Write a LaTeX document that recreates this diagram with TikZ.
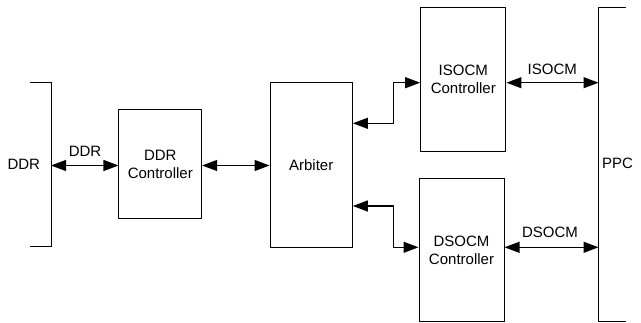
\documentclass[tikz,border=0pt]{standalone}
\usepackage{fontspec}
\setmainfont{Liberation Sans}
\usetikzlibrary{arrows.meta,calc}
\begin{document}
\begin{tikzpicture}[x=1pt,y=-1pt,
  every node/.style={font=\fontsize{15}{18.5}\selectfont, inner sep=0pt},
  blk/.style={draw, line width=1pt, align=center},
  ln/.style={line width=1pt},
  arr/.style={line width=1.1pt, {Triangle[length=15pt,width=11pt]}-{Triangle[length=15pt,width=11pt]}},
  lbl/.style={}
]
\useasboundingbox (0,0) rectangle (641,323);
% boxes
\node[blk, minimum width=82.7pt, minimum height=109pt] (ddrc) at (160.3,164.5) {DDR\\Controller};
\node[blk, minimum width=82.3pt, minimum height=164.3pt] (arb) at (311.2,164.9) {Arbiter};
\node[blk, minimum width=85.3pt, minimum height=143.7pt] (iso) at (463.3,79.2) {ISOCM\\Controller};
\node[blk, minimum width=85pt, minimum height=142.7pt] (dso) at (461.5,250.3) {DSOCM\\Controller};
% brackets
\coordinate (ddrT) at (51,82.7);
\coordinate (ddrB) at (51,246.7);
\draw[ln] (30,82.7) -- (ddrT) -- (ddrB) -- (30,246.7);
\coordinate (ppcT) at (598.5,7.3);
\coordinate (ppcB) at (598.5,321.7);
\draw[ln] (626,7.3) -- (ppcT) -- (ppcB) -- (626,321.7);
\node (ddrtxt) at (23.8,164.5) {DDR};
\node (ppctxt) at (617.5,163.3) {PPC};
% connectors
\coordinate (ddrA) at (51,165.5);
\draw[arr] (ddrA) -- (ddrA -| ddrc.west);
\node (ddrlbl) at (85,151) {DDR};
\coordinate (mA) at (201.7,165.5);
\draw[arr] (ddrc.east |- mA) -- (arb.west |- mA);
\coordinate (ppcI) at (598.5,82.7);
\draw[arr] (iso.east |- ppcI) -- (ppcI);
\node (isolbl) at (552.3,69) {ISOCM};
\coordinate (ppcD) at (598.5,247.3);
\draw[arr] (dso.east |- ppcD) -- (ppcD);
\node (dsolbl) at (550,232.5) {DSOCM};
\coordinate (aI) at (352.3,123.3);
\coordinate (jI) at (393.3,123.3);
\draw[arr] (arb.east |- aI) -- (jI) |- (iso.west |- ppcI);
\coordinate (aD) at (352.3,206);
\coordinate (jD) at (393.3,206);
\draw[arr] (arb.east |- aD) -- (jD) |- (dso.west |- ppcD);
\end{tikzpicture}
\end{document}
